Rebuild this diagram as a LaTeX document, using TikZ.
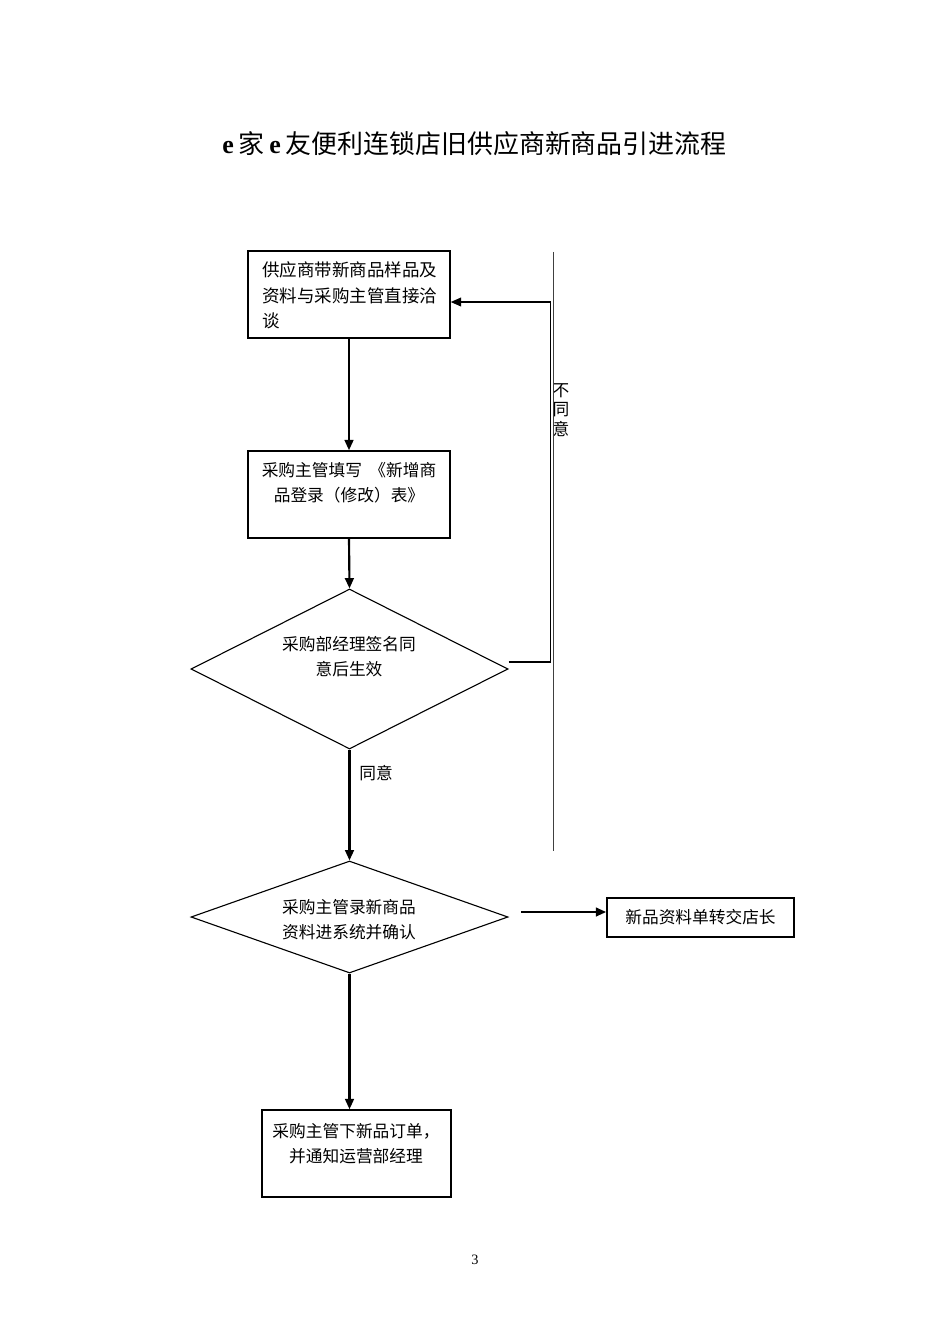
\documentclass[tikz,border=0pt]{standalone}
\usepackage{fontspec}
\setmainfont{Liberation Serif}
\newfontfamily\cjk{Noto Sans CJK SC}
\usetikzlibrary{shapes.geometric,arrows.meta,calc}
\def\PX{0.0221cm}
\begin{document}
\begin{tikzpicture}[x=0.0221cm,y=-0.0221cm,
  box/.style={draw,line width=0.9pt,rectangle,inner sep=0pt},
  dia/.style={draw,line width=0.7pt,diamond,inner sep=0pt},
  txt/.style={font=\cjk\fontsize{10.5}{15.7}\selectfont,inner sep=0pt,align=center},
  conn/.style={line width=1.35pt,-{Triangle[length=6.5pt,width=5.5pt]}},
  fb/.style={line width=0.8pt,-{Triangle[length=6.5pt,width=5.5pt]}},
  sepline/.style={line width=0.5pt,black!75},
]
\useasboundingbox (0,0) rectangle (950,1344);

% title
\node[inner sep=0pt,font=\fontsize{16.3}{20}\selectfont] (title) at (474.5,144)
  {\textbf{e}\kern3pt{\cjk 家}\kern3pt\textbf{e}\kern3pt{\cjk 友便利连锁店旧供应商新商品引进流程}};

% boxes and diamonds
\node[box,minimum width=202*\PX,minimum height=87*\PX] (b1) at (349,294.5) {};
\node[box,minimum width=202*\PX,minimum height=87*\PX] (b2) at (349,494.5) {};
\node[dia,minimum width=317*\PX,minimum height=160*\PX] (d1) at (349.5,669) {};
\node[dia,minimum width=317*\PX,minimum height=112*\PX] (d2) at (349.5,917) {};
\node[box,line width=1.1pt,minimum width=187*\PX,minimum height=39*\PX,txt] (b4) at (700.5,917.5) {新品资料单转交店长};
\node[box,minimum width=189*\PX,minimum height=87*\PX] (b3) at (356.5,1153.5) {};

% texts
\node[txt,align=left,anchor=west,font=\cjk\fontsize{11}{16}\selectfont] (t1) at (262,295.5)
  {供应商带新商品样品及\\资料与采购主管直接洽\\谈};
\node[txt] (t2) at (349,482.5) {采购主管填写\ \ 《新增商\\品登录（修改）表》};
\node[txt] (t3) at (349,657) {采购部经理签名同\\意后生效};
\node[txt] (t4) at (349,920) {采购主管录新商品\\资料进系统并确认};
\node[txt] (t5) at (356,1143.5) {采购主管下新品订单，\\并通知运营部经理};
\node[txt] (lyes) at (376,773) {同意};
\node[txt,font=\cjk\fontsize{10.5}{12.3}\selectfont] (lno) at (561,410) {不\\同\\意};

% separator line
\coordinate (sepA) at (553,252);
\coordinate (sepB) at (553,851);
\draw[sepline] (sepA) -- (sepB);

% connectors
\draw[conn] (b1.south) -- (b2.north);
\draw[conn] (b2.south) -- (d1.north);
\draw[conn] (d1.south) -- (d2.north);
\draw[fb] ([yshift=0.155cm]d1.east) -- ++(42,0) |- ([yshift=-0.166cm]b1.east);
\coordinate (a4) at (521,912);
\draw[conn] (a4) -- (a4 -| b4.west);
\draw[conn] (d2.south) -- (d2.south |- b3.north);

% page number
\node[inner sep=0pt,font=\fontsize{9}{11}\selectfont] (pg) at (475,1260) {3};
\end{tikzpicture}
\end{document}
